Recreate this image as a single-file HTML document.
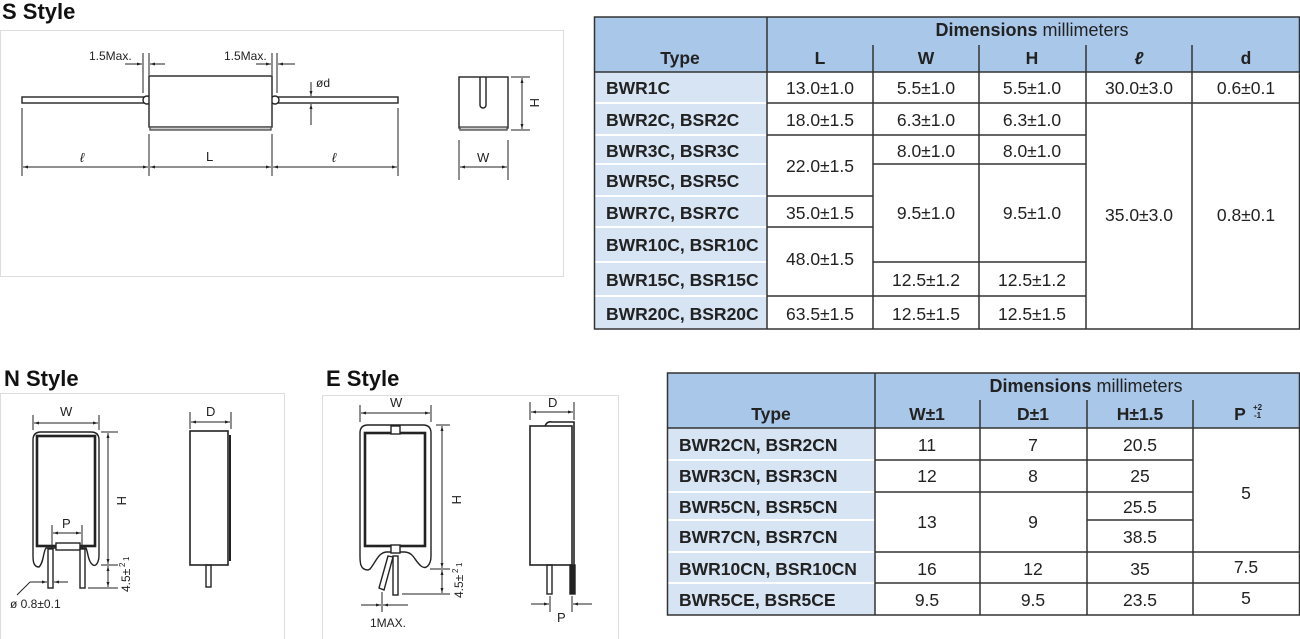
<!DOCTYPE html>
<html><head><meta charset="utf-8"><style>
body{margin:0;background:#fff;}
svg{display:block;font-family:"Liberation Sans",Arial,sans-serif;}
.h{font-weight:bold;fill:#111;}
.c{font-size:17.5px;fill:#222;text-anchor:middle;}
.t{font-size:17.5px;font-weight:bold;fill:#222;}
.s{font-size:12px;fill:#222;}
</style></head><body>
<svg width="1300" height="639" viewBox="0 0 1300 639" xmlns="http://www.w3.org/2000/svg">
<defs>
<marker id="a" viewBox="0 0 10 10" refX="10" refY="5" markerWidth="5" markerHeight="5" orient="auto-start-reverse"><path d="M0,2 L10,5 L0,8z" fill="#222"/></marker>
</defs>
<text x="2" y="19" class="h" font-size="22">S Style</text>
<text x="4" y="386" class="h" font-size="22">N Style</text>
<text x="326" y="386" class="h" font-size="22">E Style</text>

<rect x="0.5" y="30.5" width="563" height="246" fill="none" stroke="#ddd"/>
<g stroke="#222" fill="none" stroke-width="1.4">
<rect x="22" y="97" width="124" height="6" fill="#fff"/>
<rect x="276" y="97" width="122" height="6" fill="#fff"/>
<circle cx="147" cy="100" r="4" fill="#fff"/>
<circle cx="275" cy="100" r="4" fill="#fff"/>
<rect x="149" y="76" width="123" height="51" fill="#fff"/>
<rect x="150" y="127" width="121" height="3" fill="#ccc" stroke="#555"/>
<g stroke-width="1">
<line x1="22" y1="108" x2="22" y2="176"/><line x1="149" y1="134" x2="149" y2="176"/>
<line x1="272" y1="134" x2="272" y2="176"/><line x1="398" y1="108" x2="398" y2="176"/>
<line x1="23" y1="167" x2="148" y2="167" marker-start="url(#a)" marker-end="url(#a)"/>
<line x1="150" y1="167" x2="271" y2="167" marker-start="url(#a)" marker-end="url(#a)"/>
<line x1="273" y1="167" x2="397" y2="167" marker-start="url(#a)" marker-end="url(#a)"/>
<line x1="143" y1="53" x2="143" y2="93"/><line x1="149" y1="53" x2="149" y2="75"/>
<line x1="125" y1="64" x2="142" y2="64" marker-end="url(#a)"/><line x1="165" y1="64" x2="150" y2="64" marker-end="url(#a)"/>
<line x1="272" y1="53" x2="272" y2="75"/><line x1="277" y1="53" x2="277" y2="93"/>
<line x1="256" y1="64" x2="271" y2="64" marker-end="url(#a)"/><line x1="295" y1="64" x2="278" y2="64" marker-end="url(#a)"/>
<line x1="311" y1="82" x2="311" y2="96" marker-end="url(#a)"/><line x1="311" y1="125" x2="311" y2="104" marker-end="url(#a)"/>
</g>
<rect x="459" y="77" width="49" height="51" fill="#fff"/>
<rect x="460" y="127" width="47" height="3" fill="#ccc" stroke="#555"/>
<path d="M480,77 V105 a3,3 0 0 0 6,0 V77"/>
<g stroke-width="1">
<line x1="511" y1="77" x2="530" y2="77"/><line x1="511" y1="130" x2="530" y2="130"/>
<line x1="522" y1="78" x2="522" y2="129" marker-start="url(#a)" marker-end="url(#a)"/>
<line x1="459" y1="140" x2="459" y2="180"/><line x1="508" y1="140" x2="508" y2="180"/>
<line x1="460" y1="167" x2="507" y2="167" marker-start="url(#a)" marker-end="url(#a)"/>
</g>
</g>
<g class="s">
<text x="89" y="60">1.5Max.</text><text x="224" y="60">1.5Max.</text>
<text x="316" y="87">ød</text>
<text x="80" y="162" font-style="italic" font-size="13">ℓ</text>
<text x="206" y="161" font-size="13">L</text>
<text x="332" y="162" font-style="italic" font-size="13">ℓ</text>
<text x="477" y="162" font-size="13">W</text>
<text transform="translate(530,98) rotate(90)" font-size="13">H</text>
</g>

<rect x="0.5" y="393.5" width="284" height="246" fill="none" stroke="#ddd"/>
<g stroke="#222" fill="none" stroke-width="1.4">
<path d="M39,567 C33,567 33,560 33,555 V440 Q33,432 41,432 H91 Q99,432 99,440 V555 C99,562 96,567 93,565 C88,562 88,552 86,548 H46 C43,552 44,562 39,567Z"/>
<rect x="37" y="436" width="58" height="110" stroke-width="2.6"/>
<rect x="56" y="543" width="24" height="7" fill="#fff"/>
<rect x="48" y="549" width="5" height="39" fill="#fff"/>
<rect x="80" y="549" width="5" height="39" fill="#fff"/>
<g stroke-width="1">
<line x1="33" y1="415" x2="33" y2="430"/><line x1="99" y1="415" x2="99" y2="430"/>
<line x1="34" y1="423" x2="98" y2="423" marker-start="url(#a)" marker-end="url(#a)"/>
<line x1="101" y1="432" x2="118" y2="432"/><line x1="101" y1="565" x2="118" y2="565"/><line x1="88" y1="588" x2="118" y2="588"/>
<line x1="108" y1="433" x2="108" y2="564" marker-start="url(#a)" marker-end="url(#a)"/>
<line x1="108" y1="566" x2="108" y2="587" marker-start="url(#a)" marker-end="url(#a)"/>
<line x1="52" y1="525" x2="52" y2="548"/><line x1="82" y1="525" x2="82" y2="548"/>
<line x1="53" y1="533" x2="81" y2="533" marker-start="url(#a)" marker-end="url(#a)"/>
<line x1="30" y1="582" x2="47" y2="582" marker-end="url(#a)"/><line x1="68" y1="582" x2="54" y2="582" marker-end="url(#a)"/>
<line x1="30" y1="582" x2="17" y2="595"/>
</g>
<rect x="190" y="431" width="38" height="134" fill="#fff" stroke-width="1.6"/>
<line x1="230" y1="435" x2="230" y2="561" stroke-width="2"/>
<rect x="206" y="565" width="5" height="22"/>
<g stroke-width="1">
<line x1="190" y1="412" x2="190" y2="429"/><line x1="231" y1="412" x2="231" y2="429"/>
<line x1="191" y1="422" x2="230" y2="422" marker-start="url(#a)" marker-end="url(#a)"/>
</g>
</g>
<g class="s">
<text x="60" y="416" font-size="13">W</text><text x="206" y="416" font-size="13">D</text><text x="62" y="528" font-size="13">P</text>
<text x="10" y="608">ø 0.8±0.1</text>
<text transform="translate(117,496) rotate(90)" font-size="13">H</text>
<text transform="translate(130,592) rotate(-90)">4.5±</text>
<text transform="translate(125,567) rotate(-90)" font-size="8">2</text>
<text transform="translate(129,561) rotate(-90)" font-size="8">1</text>
</g>

<rect x="322.5" y="395.5" width="296" height="244" fill="none" stroke="#ddd"/>
<g stroke="#222" fill="none" stroke-width="1.4">
<path d="M368,570 C360,570 360,562 360,556 V433 Q360,425 368,425 H423 Q431,425 431,433 V556 C431,565 426,570 421,566 C414,560 414,553 405,552 H386 C378,553 376,562 370,569Z"/>
<rect x="365" y="433" width="60" height="113" stroke-width="2.6"/>
<rect x="391" y="426" width="9" height="8" fill="#fff"/>
<rect x="391" y="545" width="9" height="8" fill="#fff"/>
<polygon points="388,556 393,557 384,590 379,588" fill="#fff"/>
<rect x="393" y="556" width="5" height="39" fill="#fff"/>
<g stroke-width="1">
<line x1="360" y1="405" x2="360" y2="422"/><line x1="431" y1="405" x2="431" y2="422"/>
<line x1="361" y1="413" x2="430" y2="413" marker-start="url(#a)" marker-end="url(#a)"/>
<line x1="436" y1="425" x2="450" y2="425"/><line x1="430" y1="569" x2="450" y2="569"/><line x1="402" y1="594" x2="450" y2="594"/>
<line x1="442" y1="426" x2="442" y2="568" marker-start="url(#a)" marker-end="url(#a)"/>
<line x1="442" y1="570" x2="442" y2="593" marker-start="url(#a)" marker-end="url(#a)"/>
<line x1="382" y1="592" x2="382" y2="612"/>
<line x1="361" y1="605" x2="381" y2="605" marker-end="url(#a)"/><line x1="408" y1="605" x2="383" y2="605" marker-end="url(#a)"/>
</g>
<rect x="530" y="426" width="42" height="139" fill="#fff" stroke-width="1.6"/>
<path d="M545,426 q2,-5 7,-4 H574 V565" stroke-width="1.6"/>
<rect x="547" y="565" width="5" height="29"/>
<rect x="570" y="565" width="5" height="29" fill="#222"/>
<g stroke-width="1">
<line x1="530" y1="402" x2="530" y2="420"/><line x1="574" y1="402" x2="574" y2="420"/>
<line x1="531" y1="412" x2="573" y2="412" marker-start="url(#a)" marker-end="url(#a)"/>
<line x1="550" y1="596" x2="550" y2="612"/><line x1="572" y1="596" x2="572" y2="612"/>
<line x1="531" y1="604" x2="549" y2="604" marker-end="url(#a)"/><line x1="592" y1="604" x2="573" y2="604" marker-end="url(#a)"/>
</g>
</g>
<g class="s">
<text x="390" y="407" font-size="13">W</text><text x="548" y="407" font-size="13">D</text><text x="557" y="622" font-size="13">P</text>
<text x="370" y="627">1MAX.</text>
<text transform="translate(452,495) rotate(90)" font-size="13">H</text>
<text transform="translate(463,598) rotate(-90)">4.5±</text>
<text transform="translate(458,573) rotate(-90)" font-size="8">2</text>
<text transform="translate(462,567) rotate(-90)" font-size="8">1</text>
</g>

<rect x="594" y="17" width="706" height="55" fill="#a9c7e9"/>
<rect x="594" y="72" width="173" height="257" fill="#d7e4f4"/>
<g stroke="#fff" stroke-width="2">
<line x1="594" y1="103" x2="767" y2="103"/><line x1="594" y1="135" x2="767" y2="135"/><line x1="594" y1="164" x2="767" y2="164"/>
<line x1="594" y1="196" x2="767" y2="196"/><line x1="594" y1="227" x2="767" y2="227"/><line x1="594" y1="262" x2="767" y2="262"/><line x1="594" y1="296" x2="767" y2="296"/>
</g>
<g stroke="#333" stroke-width="1.5" fill="none">
<rect x="594.5" y="17" width="705" height="312"/>
<line x1="594" y1="72" x2="1300" y2="72"/>
<line x1="767" y1="17" x2="767" y2="329"/>
<line x1="873" y1="45" x2="873" y2="329"/><line x1="979" y1="45" x2="979" y2="329"/>
<line x1="1086" y1="45" x2="1086" y2="329"/><line x1="1192" y1="45" x2="1192" y2="329"/>
<line x1="767" y1="103" x2="1300" y2="103"/>
<line x1="767" y1="135" x2="873" y2="135"/><line x1="767" y1="196" x2="873" y2="196"/><line x1="767" y1="227" x2="873" y2="227"/><line x1="767" y1="296" x2="873" y2="296"/>
<line x1="873" y1="135" x2="1086" y2="135"/><line x1="873" y1="164" x2="1086" y2="164"/><line x1="873" y1="262" x2="1086" y2="262"/><line x1="873" y1="296" x2="1086" y2="296"/>
</g>
<text x="1032" y="36" font-size="18" text-anchor="middle" fill="#222"><tspan font-weight="bold">Dimensions</tspan> millimeters</text>
<g class="t" font-size="20" text-anchor="middle">
<text x="680" y="64">Type</text><text x="820" y="64">L</text><text x="926" y="64">W</text><text x="1032" y="64">H</text><text x="1139" y="64" font-style="italic">ℓ</text><text x="1246" y="64">d</text>
</g>
<g class="t">
<text x="606" y="94">BWR1C</text><text x="606" y="126">BWR2C, BSR2C</text><text x="606" y="157">BWR3C, BSR3C</text>
<text x="606" y="187">BWR5C, BSR5C</text><text x="606" y="219">BWR7C, BSR7C</text><text x="606" y="251">BWR10C, BSR10C</text>
<text x="606" y="286">BWR15C, BSR15C</text><text x="606" y="320">BWR20C, BSR20C</text>
</g>
<g class="c">
<text x="820" y="94">13.0±1.0</text><text x="926" y="94">5.5±1.0</text><text x="1032" y="94">5.5±1.0</text><text x="1139" y="94">30.0±3.0</text><text x="1246" y="94">0.6±0.1</text>
<text x="820" y="126">18.0±1.5</text><text x="926" y="126">6.3±1.0</text><text x="1032" y="126">6.3±1.0</text>
<text x="820" y="172">22.0±1.5</text><text x="926" y="157">8.0±1.0</text><text x="1032" y="157">8.0±1.0</text>
<text x="820" y="219">35.0±1.5</text><text x="926" y="219">9.5±1.0</text><text x="1032" y="219">9.5±1.0</text>
<text x="1139" y="221">35.0±3.0</text><text x="1246" y="221">0.8±0.1</text>
<text x="820" y="265">48.0±1.5</text><text x="926" y="286">12.5±1.2</text><text x="1032" y="286">12.5±1.2</text>
<text x="820" y="320">63.5±1.5</text><text x="926" y="320">12.5±1.5</text><text x="1032" y="320">12.5±1.5</text>
</g>

<rect x="667" y="373" width="633" height="55" fill="#a9c7e9"/>
<rect x="667" y="428" width="208" height="187" fill="#d7e4f4"/>
<g stroke="#fff" stroke-width="2">
<line x1="667" y1="460" x2="875" y2="460"/><line x1="667" y1="492" x2="875" y2="492"/><line x1="667" y1="520" x2="875" y2="520"/>
<line x1="667" y1="552" x2="875" y2="552"/><line x1="667" y1="583" x2="875" y2="583"/>
</g>
<g stroke="#333" stroke-width="1.5" fill="none">
<rect x="667.5" y="373" width="632" height="242"/>
<line x1="667" y1="428" x2="1300" y2="428"/>
<line x1="875" y1="373" x2="875" y2="615"/>
<line x1="980" y1="400" x2="980" y2="615"/><line x1="1087" y1="400" x2="1087" y2="615"/><line x1="1193" y1="400" x2="1193" y2="615"/>
<line x1="875" y1="460" x2="1193" y2="460"/><line x1="875" y1="492" x2="1193" y2="492"/>
<line x1="1087" y1="520" x2="1193" y2="520"/>
<line x1="875" y1="552" x2="1300" y2="552"/><line x1="875" y1="583" x2="1300" y2="583"/>
</g>
<text x="1086" y="392" font-size="18" text-anchor="middle" fill="#222"><tspan font-weight="bold">Dimensions</tspan> millimeters</text>
<g class="t" font-size="20" text-anchor="middle">
<text x="771" y="420">Type</text><text x="927" y="420">W±1</text><text x="1033" y="420">D±1</text><text x="1140" y="420">H±1.5</text><text x="1240" y="420">P</text>
</g>
<text x="1253" y="410" font-size="8" font-weight="bold" fill="#222">+2</text>
<text x="1254" y="418" font-size="8" font-weight="bold" fill="#222">-1</text>
<g class="t">
<text x="679" y="451">BWR2CN, BSR2CN</text><text x="679" y="482">BWR3CN, BSR3CN</text><text x="679" y="513">BWR5CN, BSR5CN</text>
<text x="679" y="543">BWR7CN, BSR7CN</text><text x="679" y="575">BWR10CN, BSR10CN</text><text x="679" y="606">BWR5CE, BSR5CE</text>
</g>
<g class="c">
<text x="927" y="451">11</text><text x="1033" y="451">7</text><text x="1140" y="451">20.5</text>
<text x="927" y="482">12</text><text x="1033" y="482">8</text><text x="1140" y="482">25</text>
<text x="927" y="528">13</text><text x="1033" y="528">9</text><text x="1140" y="513">25.5</text><text x="1140" y="543">38.5</text>
<text x="1246" y="499">5</text>
<text x="927" y="575">16</text><text x="1033" y="575">12</text><text x="1140" y="575">35</text><text x="1246" y="573">7.5</text>
<text x="927" y="606">9.5</text><text x="1033" y="606">9.5</text><text x="1140" y="606">23.5</text><text x="1246" y="604">5</text>
</g>
</svg>
</body></html>
